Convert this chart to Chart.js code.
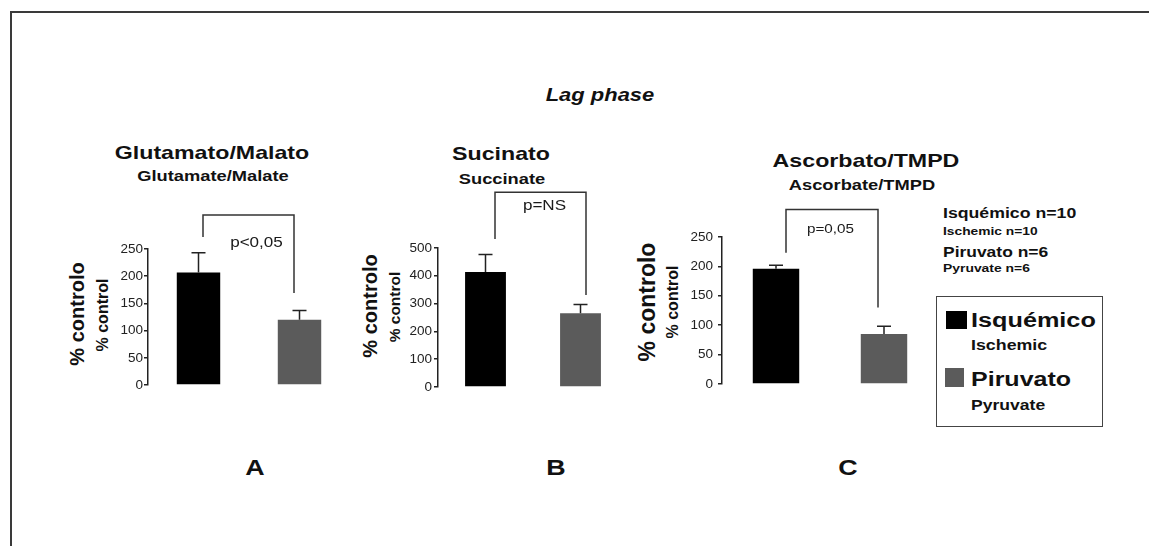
<!DOCTYPE html>
<html>
<head>
    <title>Lag phase</title>
    <script src="https://cdn.jsdelivr.net/npm/chart.js"></script>
    <style>
        * { margin: 0; padding: 0; box-sizing: border-box; }
        body { width: 1149px; height: 546px; background: #fff; overflow: hidden; position: relative;
               font-family: "Liberation Sans", Arial, sans-serif; color: #111; }
        .frame { position: absolute; left: 10px; top: 11px; width: 1200px; height: 600px;
                 border-top: 2px solid #3a3a3a; border-left: 2px solid #3a3a3a; }
        .t { position: absolute; white-space: nowrap; font-weight: bold; line-height: 1;
             transform: translate(-50%, -50%) scaleX(1.22); }
        .l { position: absolute; white-space: nowrap; font-weight: bold; line-height: 1;
             transform-origin: left center; transform: translateY(-50%) scaleX(1.22); }
        .rot { position: absolute; white-space: nowrap; font-weight: bold; line-height: 1;
               transform: translate(-50%, -50%) rotate(-90deg); }
        .box { position: absolute; left: 936px; top: 296px; width: 167px; height: 131px;
               border: 1.5px solid #444; }
        .sq { position: absolute; }
        .panel { position: absolute; }
    </style>
</head>
<body>
    <div class="frame"></div>

    <div class="t" style="left:600px; top:95px; font-size:18px; font-style:italic;">Lag phase</div>

    <div class="t" style="left:212px; top:152px; font-size:19px;">Glutamato/Malato</div>
    <div class="t" style="left:213px; top:175px; font-size:15px;">Glutamate/Malate</div>
    <div class="t" style="left:501px; top:153px; font-size:19px;">Sucinato</div>
    <div class="t" style="left:502px; top:178px; font-size:15px;">Succinate</div>
    <div class="t" style="left:866px; top:160px; font-size:19px;">Ascorbato/TMPD</div>
    <div class="t" style="left:862px; top:184px; font-size:15px;">Ascorbate/TMPD</div>

    <div class="rot" style="left:77px; top:314px; font-size:20px;">% controlo</div>
    <div class="rot" style="left:103px; top:315px; font-size:16px;">% control</div>
    <div class="rot" style="left:370px; top:306px; font-size:20px;">% controlo</div>
    <div class="rot" style="left:395px; top:307px; font-size:15.5px;">% control</div>
    <div class="rot" style="left:647px; top:302px; font-size:23px;">% controlo</div>
    <div class="rot" style="left:673px; top:302px; font-size:16px;">% control</div>

    <div class="t" style="left:255px; top:468px; font-size:22px;">A</div>
    <div class="t" style="left:556px; top:468px; font-size:22px;">B</div>
    <div class="t" style="left:848px; top:468px; font-size:22px;">C</div>

    <div class="l" style="left:943px; top:213px; font-size:14.5px;">Isquémico n=10</div>
    <div class="l" style="left:943px; top:232px; font-size:11.3px;">Ischemic n=10</div>
    <div class="l" style="left:943px; top:252px; font-size:14.3px;">Piruvato n=6</div>
    <div class="l" style="left:943px; top:269px; font-size:11.4px;">Pyruvate n=6</div>

    <div class="box"></div>
    <div class="sq" style="left:946px; top:311px; width:21px; height:18px; background:#000;"></div>
    <div class="sq" style="left:945px; top:368px; width:19px; height:19px; background:#5b5b5b;"></div>
    <div class="l" style="left:971px; top:320px; font-size:20.7px;">Isquémico</div>
    <div class="l" style="left:971px; top:345px; font-size:14.6px;">Ischemic</div>
    <div class="l" style="left:971px; top:379px; font-size:20.5px;">Piruvato</div>
    <div class="l" style="left:971px; top:405px; font-size:14.4px;">Pyruvate</div>

    <div class="panel" style="left:108px; top:189px; width:252px; height:206px;"><canvas id="chartA"></canvas></div>
    <div class="panel" style="left:398px; top:178px; width:240px; height:219px;"><canvas id="chartB"></canvas></div>
    <div class="panel" style="left:682px; top:187px; width:266px; height:210px;"><canvas id="chartC"></canvas></div>

    <script>
        // groups and bar colours
        const groups = ['Isquémico', 'Piruvato'];
        const barColors = ['#000000', '#5b5b5b'];

        // A - Glutamato/Malato
        const valuesA = [207, 120];
        const errorsA = [36, 17];
        // B - Sucinato
        const valuesB = [414, 265];
        const errorsB = [63, 32];
        // C - Ascorbato/TMPD
        const valuesC = [196, 85];
        const errorsC = [6, 13];

        const FONT = '"Liberation Sans", Arial, sans-serif';

        // error bars drawn on top of each bar
        const errorBars = {
            id: 'errorBars',
            afterDatasetsDraw(chart) {
                const errs = chart.options.plugins.errorBars.errors;
                const y = chart.scales.y;
                const ctx = chart.ctx;
                const meta = chart.getDatasetMeta(0);
                ctx.save();
                ctx.strokeStyle = '#222';
                ctx.lineWidth = 1.5;
                meta.data.forEach((bar, i) => {
                    const v = chart.data.datasets[0].data[i];
                    const yTop = y.getPixelForValue(v + errs[i]);
                    ctx.beginPath();
                    ctx.moveTo(bar.x, bar.y);
                    ctx.lineTo(bar.x, yTop);
                    ctx.moveTo(bar.x - 7, yTop);
                    ctx.lineTo(bar.x + 7, yTop);
                    ctx.stroke();
                });
                ctx.restore();
            }
        };

        // significance bracket and p-value text
        const bracket = {
            id: 'bracket',
            afterDraw(chart) {
                const o = chart.options.plugins.bracket;
                const y = chart.scales.y;
                const ctx = chart.ctx;
                const meta = chart.getDatasetMeta(0);
                const x0 = meta.data[0].x + o.dx0;
                const x1 = meta.data[1].x + o.dx1;
                ctx.save();
                ctx.strokeStyle = '#333';
                ctx.lineWidth = 1.5;
                ctx.beginPath();
                ctx.moveTo(x0, y.getPixelForValue(o.leftEnd));
                ctx.lineTo(x0, y.getPixelForValue(o.top));
                ctx.lineTo(x1, y.getPixelForValue(o.top));
                ctx.lineTo(x1, y.getPixelForValue(o.rightEnd));
                ctx.stroke();
                ctx.translate(meta.data[0].x + o.textDx, y.getPixelForValue(o.textAt));
                ctx.scale(1.22, 1);
                ctx.fillStyle = '#1a1a1a';
                ctx.font = o.fontSize + 'px ' + FONT;
                ctx.textAlign = 'center';
                ctx.textBaseline = 'middle';
                ctx.fillText(o.text, 0, 0);
                ctx.restore();
            }
        };

        function makeChart(id, values, errors, max, step, areaW, padTop, tickPad, br) {
            return new Chart(document.getElementById(id), {
                type: 'bar',
                data: {
                    labels: groups,
                    datasets: [{
                        data: values,
                        backgroundColor: barColors,
                        barPercentage: 0.43,
                        categoryPercentage: 1
                    }]
                },
                options: {
                    responsive: true,
                    maintainAspectRatio: false,
                    animation: false,
                    layout: { padding: { top: padTop, bottom: 10, left: 0, right: 10 } },
                    scales: {
                        x: { display: false },
                        y: {
                            min: 0,
                            max: max,
                            afterFit: (scale) => { scale.width = 40; },
                            ticks: {
                                stepSize: step,
                                padding: tickPad,
                                color: '#222',
                                font: { family: FONT, size: 13.5 }
                            },
                            grid: { drawOnChartArea: false, drawTicks: true, tickLength: 4, color: '#222', lineWidth: 1.5 },
                            border: { display: true, color: '#222', width: 1.5 }
                        }
                    },
                    plugins: {
                        legend: { display: false },
                        tooltip: { enabled: false },
                        errorBars: { errors: errors },
                        bracket: br
                    }
                },
                plugins: [errorBars, bracket]
            });
        }

        makeChart('chartA', valuesA, errorsA, 250, 50, 202, 60, 1,
            { dx0: 4.5, dx1: -5.5, top: 312.5, leftEnd: 272, rightEnd: 169, text: 'p<0,05', textDx: 58, textAt: 261, fontSize: 14 });
        makeChart('chartB', valuesB, errorsB, 500, 100, 190, 70, 2,
            { dx0: 9.5, dx1: 5.5, top: 701, leftEnd: 532, rightEnd: 331, text: 'p=NS', textDx: 59, textAt: 652, fontSize: 14 });
        makeChart('chartC', valuesC, errorsC, 250, 50, 216, 50, 5,
            { dx0: 10, dx1: -6, top: 297, leftEnd: 223, rightEnd: 130, text: 'p=0,05', textDx: 54.5, textAt: 262, fontSize: 12.5 });
    </script>
</body>
</html>
